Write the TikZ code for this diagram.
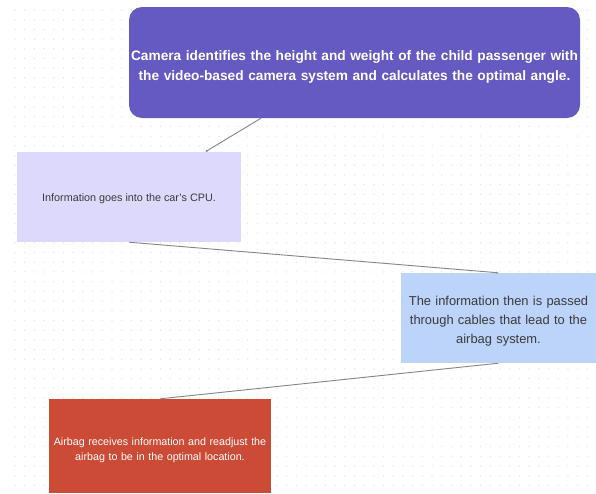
\documentclass[tikz,border=0pt]{standalone}
\usepackage{fontspec}
\setmainfont{Liberation Sans}
\usetikzlibrary{calc,arrows.meta}
\definecolor{cpurple}{HTML}{6559C2}
\definecolor{clav}{HTML}{DDD9FD}
\definecolor{cblue}{HTML}{BCD3FA}
\definecolor{cred}{HTML}{CC4B37}
\definecolor{cdot}{HTML}{E4E4E4}
\definecolor{cline}{HTML}{858585}
\definecolor{ctext}{HTML}{3A3A3A}
\tikzset{
  box/.style={rectangle, inner sep=0pt, anchor=center},
  txt/.style={inner sep=0pt, align=center, anchor=center},
  link/.style={draw=cline, line width=0.9pt, -{Latex[length=2.2pt,width=2.2pt]}}
}
\begin{document}
\begin{tikzpicture}[x=1pt,y=-1pt]
\useasboundingbox[fill=white] (0,0) rectangle (596,493);
\foreach \i in {0,...,60}{
  \foreach \j in {0,...,50}{
    \fill[cdot] (15+\i*9.7, 10+\j*9.7) circle (0.75pt);
  }
}
\node[box, fill=cpurple, rounded corners=13pt, minimum width=451pt, minimum height=111pt] (cam) at (354.5,62.5) {};
\node[txt, text=white, text width=450pt, font=\fontsize{13.7}{20}\selectfont\bfseries] (camt) at ([yshift=-4pt]cam.center)
  {Camera identifies the height and weight of the child passenger with\\the video-based camera system and calculates the optimal angle.};
\node[box, fill=clav, minimum width=224pt, minimum height=90pt] (cpu) at (129,197) {};
\node[txt, text=ctext, font=\fontsize{10.8}{13}\selectfont] (cput) at ([yshift=-2pt]cpu.center)
  {Information goes into the car's CPU.};
\node[box, fill=cblue, minimum width=195pt, minimum height=90pt] (cab) at (498.5,318) {};
\node[txt, text=ctext, text width=194pt, font=\fontsize{12.9}{19}\selectfont] (cabt) at ([yshift=-3pt]cab.center)
  {The information then is passed\\through cables that lead to the\\airbag system.};
\node[box, fill=cred, minimum width=222pt, minimum height=94pt] (bag) at (160,446) {};
\node[txt, text=white, text width=221pt, font=\fontsize{10.7}{15}\selectfont] (bagt) at ([yshift=-4pt]bag.center)
  {Airbag receives information and readjust the\\airbag to be in the optimal location.};
\draw[link] ($(cam.south west)!0.293!(cam.south east)$) -- ($(cpu.north west)!0.84!(cpu.north east)$);
\draw[link] (cpu.south) -- (cab.north);
\draw[link] (cab.south) -- (bag.north);
\end{tikzpicture}
\end{document}
